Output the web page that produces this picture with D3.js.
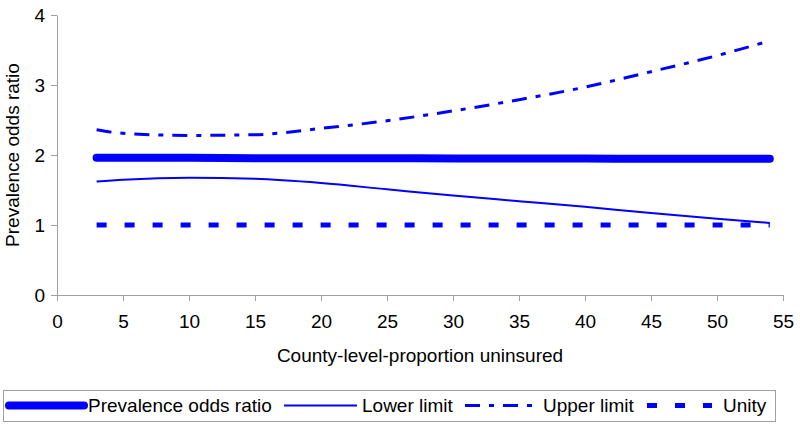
<!DOCTYPE html>
<html>
<head>
<meta charset="utf-8">
<script src="https://cdn.jsdelivr.net/npm/d3@7"></script>
<style>
  body { margin: 0; background: #fff; }
  text { font-family: "Liberation Sans", Arial, sans-serif; }
</style>
</head>
<body>
<div id="chart"></div>
<script>
// data
const uninsured = [3, 5, 10, 15, 20, 25, 30, 35, 40, 45, 50, 54];
const oddsRatio = [1.96, 1.96, 1.96, 1.955, 1.955, 1.955, 1.95, 1.95, 1.95, 1.945, 1.945, 1.945];
const lowerLimit = [1.62, 1.645, 1.675, 1.66, 1.60, 1.51, 1.42, 1.34, 1.26, 1.17, 1.09, 1.03];
const upperLimit = [2.36, 2.31, 2.28, 2.29, 2.38, 2.49, 2.63, 2.79, 2.97, 3.19, 3.42, 3.63];
const unity = [1, 1, 1, 1, 1, 1, 1, 1, 1, 1, 1, 1];
const xTicks = [0, 5, 10, 15, 20, 25, 30, 35, 40, 45, 50, 55];
const yTicks = [0, 1, 2, 3, 4];

const width = 800, height = 427;
const margin = {top: 15, right: 17, bottom: 132, left: 57};

const svg = d3.select("#chart").append("svg")
  .attr("width", width)
  .attr("height", height);

const x = d3.scaleLinear().domain([0, 55]).range([margin.left, width - margin.right]);
const y = d3.scaleLinear().domain([0, 4]).range([height - margin.bottom, margin.top]);

// axes
const xAxis = svg.append("g")
  .attr("transform", "translate(0," + y(0) + ")")
  .call(d3.axisBottom(x).tickValues(xTicks).tickFormat(d3.format("d"))
    .tickSize(6).tickPadding(14).tickSizeOuter(0));
const yAxis = svg.append("g")
  .attr("transform", "translate(" + x(0) + ",0)")
  .call(d3.axisLeft(y).tickValues(yTicks).tickFormat(d3.format("d"))
    .tickSize(6).tickPadding(6).tickSizeOuter(0));

[xAxis, yAxis].forEach(function(g){
  g.selectAll("path, line").attr("stroke", "#a0a0a0");
  g.selectAll("text").attr("fill", "#000").style("font-size", "19px")
    .style("font-family", "'Liberation Sans', Arial, sans-serif");
});

// axis titles
svg.append("text")
  .attr("x", (x(0) + x(55)) / 2)
  .attr("y", 362)
  .attr("text-anchor", "middle")
  .style("font-size", "19px")
  .text("County-level-proportion uninsured");

svg.append("text")
  .attr("transform", "translate(19," + y(2) + ") rotate(-90)")
  .attr("text-anchor", "middle")
  .style("font-size", "19px")
  .text("Prevalence odds ratio");

// series
const series = [
  {name: "Prevalence odds ratio", values: oddsRatio, width: 8, dash: null, cap: "round"},
  {name: "Lower limit", values: lowerLimit, width: 2, dash: null, cap: "butt"},
  {name: "Upper limit", values: upperLimit, width: 3, dash: "15,9,5,9", cap: "butt"},
  {name: "Unity", values: unity, width: 5, dash: "10,18", cap: "butt"}
];

const line = d3.line()
  .x(function(d){ return x(d[0]); })
  .y(function(d){ return y(d[1]); })
  .curve(d3.curveMonotoneX);

svg.append("g").selectAll("path")
  .data(series)
  .enter()
  .append("path")
    .attr("d", function(s){ return line(uninsured.map(function(v, i){ return [v, s.values[i]]; })); })
    .attr("fill", "none")
    .attr("stroke", "#0000ff")
    .attr("stroke-width", function(s){ return s.width; })
    .attr("stroke-linecap", function(s){ return s.cap; })
    .attr("stroke-dasharray", function(s){ return s.dash; });

// legend
const legend = svg.append("g");
legend.append("rect")
  .attr("x", 3.5).attr("y", 390.5)
  .attr("width", 772).attr("height", 31)
  .attr("fill", "#fff")
  .attr("stroke", "#a0a0a0");

const legendPos = [
  {x1: 9, x2: 84, tx: 88},
  {x1: 284, x2: 357, tx: 362},
  {x1: 465, x2: 535, tx: 543},
  {x1: 647, x2: 712, tx: 723}
];
const ly = 405.5;

series.forEach(function(s, i){
  const p = legendPos[i];
  legend.append("line")
    .attr("x1", p.x1).attr("x2", p.x2)
    .attr("y1", ly).attr("y2", ly)
    .attr("stroke", "#0000ff")
    .attr("stroke-width", s.width)
    .attr("stroke-linecap", s.cap)
    .attr("stroke-dasharray", s.dash);
  legend.append("text")
    .attr("x", p.tx).attr("y", ly)
    .attr("dy", "0.35em")
    .style("font-size", "19px")
    .text(s.name);
});
</script>
</body>
</html>
